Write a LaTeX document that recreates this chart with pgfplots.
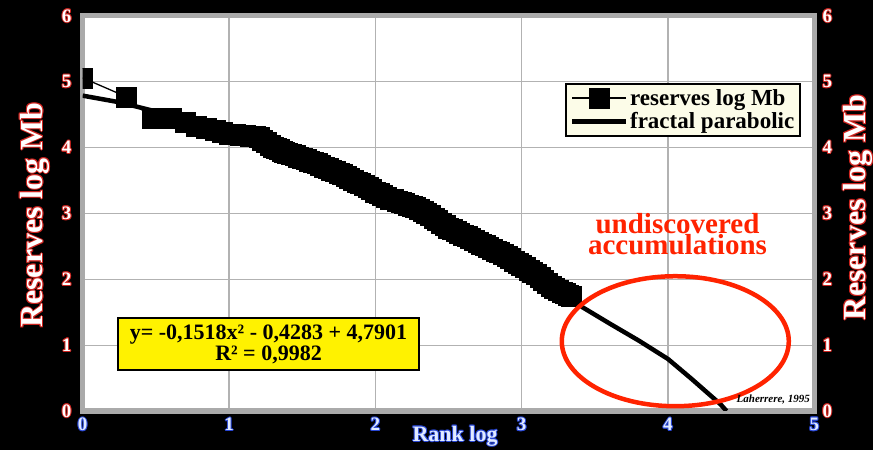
\documentclass[border=0pt]{standalone}
\usepackage{fontspec}
\setmainfont{Liberation Serif}
\usepackage{pgfplots}
\pgfplotsset{compat=1.18}

\definecolor{lblred}{RGB}{205,35,30}
\definecolor{lblblue}{RGB}{40,70,210}
\definecolor{lblbluefill}{RGB}{225,235,255}
\definecolor{cream}{RGB}{252,252,232}
\definecolor{gridgray}{RGB}{178,178,178}
\definecolor{framegray}{RGB}{170,170,170}
\definecolor{ellred}{RGB}{255,35,0}

% text with a thin coloured outline: #1 outline, #2 fill, #3 text
\newcommand\outl[3]{\begingroup\setbox0=\hbox{#3}%
  \def\cp##1##2{\rlap{\kern##1\raise##2\hbox{\color{#1}\copy0}}}%
  \cp{-1bp}{0bp}\cp{1bp}{0bp}\cp{0bp}{1bp}\cp{0bp}{-1bp}%
  \cp{-.7bp}{.7bp}\cp{.7bp}{.7bp}\cp{-.7bp}{-.7bp}\cp{.7bp}{-.7bp}%
  \hbox{\color{#2}\copy0}\endgroup}
\newcommand\rl[1]{\outl{lblred}{white}{#1}}
\newcommand\bl[1]{\outl{lblblue}{lblbluefill}{#1}}

\pgfplotsset{
  chartbase/.style={
    at={(82.7bp,39bp)}, anchor=south west,
    scale only axis, width=731.6bp, height=395bp,
    xmin=0, xmax=5, ymin=0, ymax=6,
    ytick={0,1,2,3,4,5,6},
    yticklabels={\rl{0},\rl{1},\rl{2},\rl{3},\rl{4},\rl{5},\rl{6}},
    major tick length=0pt,
    axis line style={draw=framegray, line width=5bp},
    ylabel={\rl{Reserves log Mb}},
    ylabel style={anchor=center, font=\fontsize{32bp}{34bp}\selectfont\bfseries},
    yticklabel style={inner sep=0pt, font=\fontsize{19bp}{20bp}\selectfont\bfseries},
  },
  legend image code/.code={\draw[mark repeat=2,mark phase=2,#1] plot coordinates {(0bp,0bp) (27bp,0bp) (54bp,0bp)};},
}

\begin{document}
\begin{tikzpicture}
\useasboundingbox (0,0) rectangle (873bp,450bp);
\fill[black] (0,0) rectangle (873bp,450bp);

\begin{axis}[
  chartbase,
  xtick={0,1,2,3,4,5},
  xticklabels={\bl{0},\bl{1},\bl{2},\bl{3},\bl{4},\bl{5}},
  grid=major,
  major grid style={draw=gridgray, line width=1.2bp},
  axis background/.style={fill=white},
  clip marker paths=true,
  xticklabel style={anchor=north, inner sep=0pt, yshift=-6bp, font=\fontsize{19bp}{20bp}\selectfont\bfseries},
  yticklabel style={anchor=east, xshift=-11bp},
  xlabel={\bl{Rank log}},
  xlabel style={at={(axis description cs:0.509,-0.0633)}, anchor=center, font=\fontsize{22bp}{24bp}\selectfont\bfseries},
  ylabel style={at={(axis description cs:-0.0652,0.496)}},
  legend style={at={(axis cs:3.297,4.985)}, anchor=north west, fill=cream, draw=black, line width=2bp,
    font=\fontsize{23bp}{24bp}\selectfont\bfseries, inner sep=4bp,
    nodes={inner sep=1.5bp}, row sep=3bp},
  legend cell align=left,
]

\addplot[black, line width=1.3bp, mark=square*, mark size=10bp, mark options={solid, fill=black, line width=0.5bp}] table {
x y
0.000 5.06
0.301 4.77
0.477 4.44
0.602 4.44
0.699 4.38
0.778 4.33
0.845 4.29
0.903 4.26
0.954 4.23
1.000 4.21
1.041 4.20
1.079 4.19
1.114 4.19
1.146 4.18
1.176 4.17
1.204 4.16
1.230 4.12
1.255 4.08
1.279 4.04
1.301 4.01
1.322 3.99
1.342 3.97
1.362 3.95
1.380 3.93
1.398 3.92
1.425 3.90
1.450 3.88
1.475 3.86
1.500 3.84
1.525 3.82
1.550 3.80
1.575 3.78
1.600 3.76
1.625 3.74
1.650 3.71
1.675 3.69
1.700 3.66
1.725 3.64
1.750 3.61
1.775 3.59
1.800 3.56
1.825 3.53
1.850 3.51
1.875 3.48
1.900 3.46
1.925 3.43
1.950 3.40
1.975 3.37
2.000 3.33
2.025 3.31
2.050 3.28
2.075 3.25
2.100 3.22
2.125 3.21
2.150 3.19
2.175 3.17
2.200 3.15
2.225 3.13
2.250 3.11
2.275 3.09
2.300 3.06
2.325 3.03
2.350 3.00
2.375 2.97
2.400 2.93
2.425 2.89
2.450 2.85
2.475 2.82
2.500 2.78
2.525 2.76
2.550 2.73
2.575 2.70
2.600 2.67
2.625 2.65
2.650 2.62
2.675 2.60
2.700 2.57
2.725 2.54
2.750 2.52
2.775 2.49
2.800 2.46
2.825 2.43
2.850 2.41
2.875 2.38
2.900 2.35
2.925 2.32
2.950 2.28
2.975 2.25
3.000 2.21
3.025 2.18
3.050 2.14
3.075 2.11
3.100 2.07
3.125 2.03
3.150 1.99
3.175 1.94
3.200 1.89
3.225 1.86
3.250 1.83
3.275 1.81
3.300 1.79
3.320 1.76
3.340 1.75
};
\addlegendentry{reserves log Mb}

\addplot[black, line width=4.5bp, no marks] table {
x y
0.00 4.79
0.25 4.69
0.50 4.55
0.75 4.39
1.00 4.21
1.25 4.02
1.50 3.81
1.75 3.58
2.00 3.33
2.25 3.07
2.50 2.79
2.75 2.49
3.00 2.18
3.20 1.91
3.42 1.57
3.60 1.33
3.80 1.07
4.00 0.79
4.16 0.49
4.36 0.10
4.40 0.00
};
\addlegendentry{fractal parabolic}

\draw[ellred, line width=4.5bp] (axis cs:4.05,1.06) ellipse [x radius=113.5bp, y radius=65bp];

\node[ellred, anchor=center, inner sep=0pt, align=center, font=\fontsize{29bp}{21bp}\selectfont\bfseries]
  at (axis cs:4.065,2.69) {undiscovered\\accumulations};

\node[fill=yellow, draw=black, line width=2bp, minimum width=301bp, minimum height=52bp,
      inner sep=0pt, align=center, font=\fontsize{22bp}{21bp}\selectfont\bfseries]
  at (axis cs:1.27,1.018) {y= -0,1518x² - 0,4283 + 4,7901\\R² = 0,9982};

\node[font=\fontsize{11bp}{12bp}\selectfont\bfseries\itshape] at (axis cs:4.72,0.167) {Laherrere, 1995};
\end{axis}

\begin{axis}[
  chartbase,
  axis x line=none,
  axis y line*=right,
  yticklabel style={anchor=west, xshift=8bp},
  ylabel style={at={(axis description cs:1.0597,0.516)}},
]
\end{axis}
\end{tikzpicture}
\end{document}
